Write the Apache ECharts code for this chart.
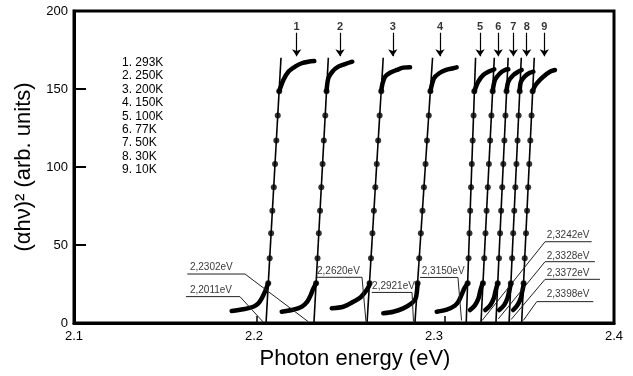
<!DOCTYPE html>
<html>
<head>
<meta charset="utf-8">
<script src="https://cdn.jsdelivr.net/npm/echarts@6/dist/echarts.min.js"></script>
<style>
html,body{margin:0;padding:0;background:#fff;}
#chart{width:633px;height:376px;}
</style>
</head>
<body>
<div id="chart"></div>
<script>
// ---------- data ----------
const legendLines = ['1. 293K','2. 250K','3. 200K','4. 150K','5. 100K','6. 77K','7. 50K','8. 30K','9. 10K'];
const curveNumbers = ['1','2','3','4','5','6','7','8','9'];
const xTickValues = [2.1, 2.2, 2.3, 2.4];

// straight-line fits of the absorption edges: energy at y=0 and at y=fitTopY
const fitBottomE = [2.2067, 2.2333, 2.2628, 2.2894, 2.3179, 2.3261, 2.3344, 2.3417, 2.3487];
const fitTopE    = [2.2150, 2.2413, 2.2718, 2.2992, 2.3231, 2.3335, 2.3412, 2.3485, 2.3557];
const fitTopY = 170;

// measured points on the steep part
const dotY = [25.5, 41.5, 57.5, 72, 87, 102, 117, 133, 148.5];
const dotE = [
  [2.2079, 2.2087, 2.2095, 2.2102, 2.2110, 2.2117, 2.2124, 2.2132, 2.2140],
  [2.2345, 2.2353, 2.2360, 2.2367, 2.2374, 2.2381, 2.2388, 2.2396, 2.2403],
  [2.2642, 2.2650, 2.2658, 2.2666, 2.2674, 2.2682, 2.2690, 2.2698, 2.2707],
  [2.2909, 2.2918, 2.2927, 2.2936, 2.2944, 2.2953, 2.2961, 2.2971, 2.2980],
  [2.3187, 2.3192, 2.3197, 2.3201, 2.3206, 2.3210, 2.3215, 2.3220, 2.3224],
  [2.3272, 2.3279, 2.3286, 2.3292, 2.3299, 2.3305, 2.3312, 2.3319, 2.3326],
  [2.3354, 2.3361, 2.3367, 2.3373, 2.3379, 2.3385, 2.3391, 2.3397, 2.3403],
  [2.3427, 2.3434, 2.3440, 2.3446, 2.3452, 2.3458, 2.3464, 2.3470, 2.3476],
  [2.3498, 2.3504, 2.3511, 2.3517, 2.3523, 2.3529, 2.3535, 2.3542, 2.3548]
];

// dense low-energy tails [E, y]
const tails = [
  [[2.1876,7.7],[2.1941,8.8],[2.1996,10.4],[2.2024,12.6],[2.2043,15.8],[2.2061,20.1],[2.2079,25.5]],
  [[2.2154,7.2],[2.2209,8.3],[2.2265,10.4],[2.2296,13.7],[2.2315,17.9],[2.2330,22.2],[2.2345,25.5]],
  [[2.2432,9.4],[2.2496,10.4],[2.2550,13.5],[2.2594,16.7],[2.2622,20.5],[2.2639,23.7],[2.2642,25.5]],
  [[2.2718,6.2],[2.2774,7.2],[2.2829,9.4],[2.2876,12.6],[2.2898,15.8],[2.2905,20.1],[2.2909,25.5]],
  [[2.3015,7.2],[2.3071,8.5],[2.3117,11.2],[2.3137,14],[2.3153,18],[2.3170,22.5],[2.3187,25.5]],
  [[2.3200,8.3],[2.3228,11.5],[2.3247,15.8],[2.3256,20.1],[2.3266,24],[2.3272,25.5]],
  [[2.3285,8.3],[2.3313,11.5],[2.3332,15.8],[2.3341,20.1],[2.3350,24],[2.3354,25.5]],
  [[2.3362,8.3],[2.3390,11.5],[2.3408,15.8],[2.3417,20.1],[2.3425,24],[2.3427,25.5]],
  [[2.3440,8.3],[2.3464,11.5],[2.3482,15.8],[2.3490,20.1],[2.3497,24],[2.3498,25.5]]
];

// dense high-energy saturation parts [E, y]
const plateaus = [
  [[2.2140,148.5],[2.2163,155.8],[2.2191,161.1],[2.2228,164.3],[2.2265,166.5],[2.2302,167.5],[2.2335,167.9]],
  [[2.2403,148.5],[2.2413,156.9],[2.2435,161.1],[2.2468,164.3],[2.2506,166],[2.2546,167.5]],
  [[2.2707,148.5],[2.2713,153],[2.2728,157.9],[2.2756,160.4],[2.2793,162.2],[2.2829,163.7],[2.2867,163.9]],
  [[2.2980,148.5],[2.3000,156.9],[2.3029,160.1],[2.3067,162.2],[2.3107,163.3],[2.3126,163.9]],
  [[2.3224,148.5],[2.3246,154.7],[2.3274,159],[2.3302,161.1],[2.3335,162.6]],
  [[2.3326,148.5],[2.3339,155.8],[2.3367,160.1],[2.3394,162.2],[2.3413,162.6]],
  [[2.3403,148.5],[2.3413,154.7],[2.3441,159],[2.3468,161.1],[2.3487,162.2]],
  [[2.3476,148.5],[2.3483,154.7],[2.3506,158.3],[2.3533,160.4],[2.3552,161.1]],
  [[2.3548,148.5],[2.3561,152],[2.3579,154.7],[2.3607,157.9],[2.3644,161.1],[2.3672,162.2]]
];

// numbered arrows above the curves
const arrowE = [2.2237, 2.2478, 2.2771, 2.3033, 2.3256, 2.3357, 2.3441, 2.3515, 2.3613];
const arrowStartY = 186;
const arrowTipY = 171;
const numberY = 190;

// band-edge annotations
const edgeLabels = ['2,2011eV','2,2302eV','2,2620eV','2,2921eV','2,3150eV','2,3242eV','2,3328eV','2,3372eV','2,3398eV'];
const edgeLabelAt = [
  [2.1644,21.2],[2.1644,35.7],[2.2350,33.3],[2.2656,23.3],[2.2932,32.9],
  [2.3626,56.4],[2.3626,43.1],[2.3626,32.2],[2.3626,18.4]
];
const edgeLeaders = [
  [[2.1622,16.9],[2.1922,16.9],[2.2052,0.5]],
  [[2.1629,31.4],[2.1950,31.4],[2.2302,0.8]],
  [[2.2344,29.3],[2.2600,29.3],[2.2622,1.0]],
  [[2.2654,19.6],[2.2878,19.6],[2.2886,1.0]],
  [[2.2922,29.2],[2.3133,29.2],[2.3153,1.6]],
  [[2.3876,52.1],[2.3617,52.1],[2.3267,1.6]],
  [[2.3894,39.3],[2.3617,39.3],[2.3357,2.6]],
  [[2.3922,28.0],[2.3617,28.0],[2.3428,2.2]],
  [[2.3885,13.7],[2.3571,13.7],[2.3496,1.6]]
];
const smallMarksE = [2.2015, 2.3061];
const smallMarkY = 4.5;

// ---------- chart ----------
const FONT = '"Liberation Sans", Arial, sans-serif';
const series = [];

series.push({
  type: 'lines', coordinateSystem: 'cartesian2d', silent: true, z: 3,
  lineStyle: { color: '#000', width: 1.6, opacity: 1 },
  data: fitBottomE.map((e, i) => ({ coords: [[e, 0], [fitTopE[i], fitTopY]] }))
});

tails.concat(plateaus).forEach(seg => {
  series.push({
    type: 'line', data: seg, showSymbol: false, smooth: 0.3, silent: true, z: 4,
    lineStyle: { color: '#000', width: 4.5, cap: 'round', join: 'round' }
  });
});

series.push({
  type: 'scatter', symbol: 'circle', symbolSize: 6, silent: true, z: 5,
  itemStyle: { color: '#000' },
  data: dotE.flatMap(row => row.map((e, j) => [e, dotY[j]]))
});

series.push({
  type: 'lines', coordinateSystem: 'cartesian2d', silent: true, z: 5,
  symbol: ['none', 'arrow'], symbolSize: 7,
  lineStyle: { color: '#000', width: 1.2, opacity: 1 },
  data: arrowE.map(e => ({ coords: [[e, arrowStartY], [e, arrowTipY]] }))
});

series.push({
  type: 'scatter', symbolSize: 0, silent: true, z: 6,
  data: arrowE.map((e, i) => ({ value: [e, numberY], name: curveNumbers[i] })),
  label: { show: true, position: 'inside', formatter: p => p.name,
           fontSize: 11, fontWeight: 'bold', color: '#000', fontFamily: FONT }
});

series.push({
  type: 'lines', coordinateSystem: 'cartesian2d', polyline: true, silent: true, z: 5,
  symbol: ['none', 'arrow'], symbolSize: 5,
  lineStyle: { color: '#222', width: 1, opacity: 1 },
  data: edgeLeaders.map(p => ({ coords: p }))
});

series.push({
  type: 'scatter', symbolSize: 0, silent: true, z: 6,
  data: edgeLabelAt.map((p, i) => ({ value: p, name: edgeLabels[i] })),
  label: { show: true, position: 'right', distance: 0, formatter: p => p.name,
           fontSize: 10, color: '#000', fontFamily: FONT }
});

series.push({
  type: 'lines', coordinateSystem: 'cartesian2d', silent: true, z: 5,
  lineStyle: { color: '#000', width: 1.5, opacity: 1 },
  data: smallMarksE.map(e => ({ coords: [[e, 0], [e, smallMarkY]] }))
});

const chart = echarts.init(document.getElementById('chart'), null, { renderer: 'canvas' });
chart.setOption({
  animation: false,
  backgroundColor: '#fff',
  title: {
    text: legendLines.join('\n'), left: 117, top: 51,
    textStyle: { fontSize: 12, fontWeight: 'normal', color: '#000', lineHeight: 13.4, fontFamily: FONT }
  },
  grid: { left: 74, right: 19, top: 11, bottom: 53, show: true, borderColor: '#000', borderWidth: 3 },
  xAxis: {
    type: 'value', min: 2.1, max: 2.4, interval: 0.1,
    name: 'Photon energy (eV)', nameLocation: 'middle', nameGap: 24,
    nameTextStyle: { fontSize: 22, color: '#000', fontFamily: FONT, padding: [0, 0, 0, 22] },
    axisLine: { lineStyle: { color: '#000', width: 3 } },
    axisTick: { show: false }, splitLine: { show: false },
    axisLabel: { fontSize: 13, color: '#000', margin: 7, fontFamily: FONT,
                 formatter: v => xTickValues.find(t => Math.abs(t - v) < 1e-6).toFixed(1) }
  },
  yAxis: {
    type: 'value', min: 0, max: 200, interval: 50,
    name: '(αhν)² (arb. units)', nameLocation: 'middle', nameGap: 36,
    nameTextStyle: { fontSize: 22, color: '#000', fontFamily: FONT },
    axisLine: { lineStyle: { color: '#000', width: 3 } },
    axisTick: { inside: true, length: 12, lineStyle: { color: '#000', width: 2 } },
    splitLine: { show: false },
    axisLabel: { fontSize: 13, color: '#000', margin: 6, fontFamily: FONT }
  },
  series: series
});
</script>
</body>
</html>
